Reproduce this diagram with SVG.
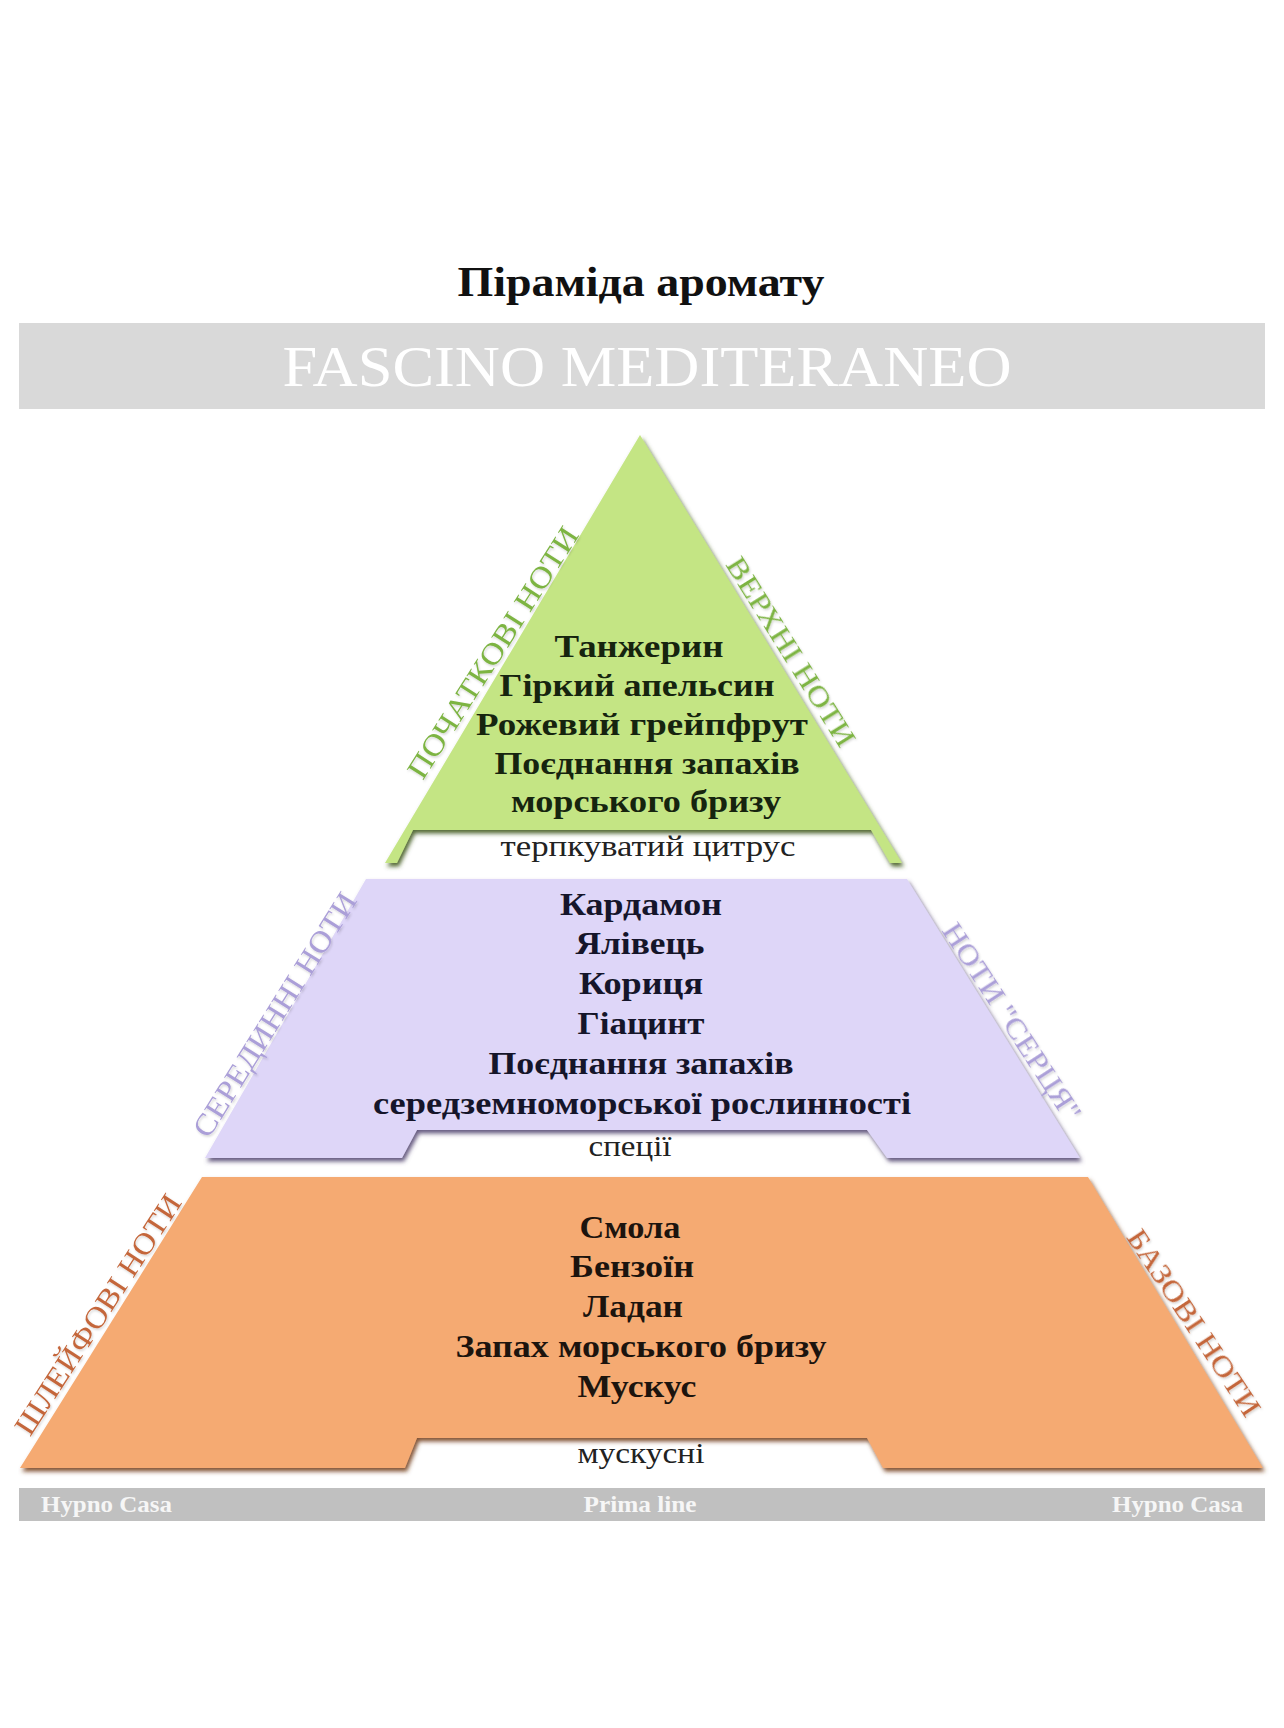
<svg xmlns="http://www.w3.org/2000/svg" width="1284" height="1728" viewBox="0 0 1284 1728">
  <defs>
    <filter id="shGreen" x="-5%" y="-5%" width="110%" height="115%">
      <feDropShadow dx="2" dy="3.5" stdDeviation="2" flood-color="#3f5a1c" flood-opacity="0.9"/>
    </filter>
    <filter id="shPurple" x="-5%" y="-5%" width="110%" height="115%">
      <feDropShadow dx="2" dy="3.5" stdDeviation="2" flood-color="#544a72" flood-opacity="0.9"/>
    </filter>
    <filter id="shOrange" x="-5%" y="-5%" width="110%" height="115%">
      <feDropShadow dx="2" dy="3.5" stdDeviation="2" flood-color="#74401f" flood-opacity="0.9"/>
    </filter>
    <filter id="txtSh" x="-10%" y="-10%" width="120%" height="130%">
      <feDropShadow dx="1" dy="1.5" stdDeviation="1" flood-color="#000000" flood-opacity="0.18"/>
    </filter>
  </defs>
  <style>
    .title { font-family: "Liberation Serif", "DejaVu Serif", serif; font-weight: bold; font-size: 42px; fill: #111111; text-anchor: middle; }
    .brand { font-family: "Liberation Serif", "DejaVu Serif", serif; font-size: 56px; fill: #ffffff; text-anchor: middle; }
    .note { font-family: "Liberation Serif", "DejaVu Serif", serif; font-weight: bold; font-size: 32px; text-anchor: middle; }
    .sub { font-family: "Liberation Serif", "DejaVu Serif", serif; font-size: 29px; fill: #222222; text-anchor: middle; }
    .side { font-family: "Liberation Serif", "DejaVu Serif", serif; font-size: 30px; text-anchor: middle; }
    .foot { font-family: "Liberation Serif", "DejaVu Serif", serif; font-weight: bold; font-size: 24px; fill: #f6f6f6; }
    .gtxt { fill: #16240f; }
    .ptxt { fill: #15152a; }
    .otxt { fill: #1c140e; }
    .gside { fill: #7db443; }
    .pside { fill: #ab9fd8; }
    .oside { fill: #c4663a; }
  </style>
  <rect x="0" y="0" width="1284" height="1728" fill="#ffffff"/>

  <g id="title">
    <text class="title" x="641" y="296" textLength="367" lengthAdjust="spacingAndGlyphs">Піраміда аромату</text>
  </g>

  <g id="banner">
    <rect x="19" y="323" width="1246" height="86" fill="#d9d9d9"/>
    <text class="brand" x="647" y="386" textLength="729" lengthAdjust="spacingAndGlyphs">FASCINO MEDITERANEO</text>
  </g>

  <g id="connectors"/>

  <g id="top-notes">
    <polygon points="640,435 902,863 890,863 871,830 413,830 397,863 385,863" fill="#c4e584" filter="url(#shGreen)"/>
    <text class="note gtxt" x="639" y="657" textLength="169" lengthAdjust="spacingAndGlyphs">Танжерин</text>
    <text class="note gtxt" x="637" y="696" textLength="275" lengthAdjust="spacingAndGlyphs">Гіркий апельсин</text>
    <text class="note gtxt" x="642" y="735" textLength="332" lengthAdjust="spacingAndGlyphs">Рожевий грейпфрут</text>
    <text class="note gtxt" x="647" y="774" textLength="305" lengthAdjust="spacingAndGlyphs">Поєднання запахів</text>
    <text class="note gtxt" x="646" y="812" textLength="270" lengthAdjust="spacingAndGlyphs">морського бризу</text>
    <text class="sub" x="648" y="856" textLength="295" lengthAdjust="spacingAndGlyphs">терпкуватий цитрус</text>
    <g filter="url(#txtSh)">
      <text class="side gside" transform="translate(492,652) rotate(-57.5)" x="0" y="11" textLength="292" lengthAdjust="spacingAndGlyphs">ПОЧАТКОВІ НОТИ</text>
      <text class="side gside" transform="translate(792,651) rotate(58)" x="0" y="11" textLength="218" lengthAdjust="spacingAndGlyphs">ВЕРХНІ НОТИ</text>
    </g>
  </g>

  <g id="heart-notes">
    <polygon points="366,879 907,879 1080,1158 887,1158 867,1130 417,1130 402,1158 205,1158" fill="#ded6f8" filter="url(#shPurple)"/>
    <text class="note ptxt" x="641" y="915" textLength="162" lengthAdjust="spacingAndGlyphs">Кардамон</text>
    <text class="note ptxt" x="640" y="954" textLength="129" lengthAdjust="spacingAndGlyphs">Ялівець</text>
    <text class="note ptxt" x="641" y="994" textLength="124" lengthAdjust="spacingAndGlyphs">Кориця</text>
    <text class="note ptxt" x="641" y="1034" textLength="127" lengthAdjust="spacingAndGlyphs">Гіацинт</text>
    <text class="note ptxt" x="641" y="1074" textLength="305" lengthAdjust="spacingAndGlyphs">Поєднання запахів</text>
    <text class="note ptxt" x="642" y="1114" textLength="538" lengthAdjust="spacingAndGlyphs">середземноморської рослинності</text>
    <text class="sub" x="630" y="1156" textLength="83" lengthAdjust="spacingAndGlyphs">спеції</text>
    <g filter="url(#txtSh)">
      <text class="side pside" transform="translate(274,1014) rotate(-58)" x="0" y="11" textLength="282" lengthAdjust="spacingAndGlyphs">СЕРЕДИННІ НОТИ</text>
      <text class="side pside" transform="translate(1013,1021) rotate(57)" x="0" y="11" textLength="230" lengthAdjust="spacingAndGlyphs">НОТИ "СЕРЦЯ"</text>
    </g>
  </g>

  <g id="base-notes">
    <polygon points="202,1177 1088,1177 1263,1468 883,1468 867,1438 417,1438 405,1468 20,1468" fill="#f5aa72" filter="url(#shOrange)"/>
    <text class="note otxt" x="630" y="1238" textLength="101" lengthAdjust="spacingAndGlyphs">Смола</text>
    <text class="note otxt" x="632" y="1277" textLength="124" lengthAdjust="spacingAndGlyphs">Бензоїн</text>
    <text class="note otxt" x="633" y="1317" textLength="100" lengthAdjust="spacingAndGlyphs">Ладан</text>
    <text class="note otxt" x="641" y="1357" textLength="371" lengthAdjust="spacingAndGlyphs">Запах морського бризу</text>
    <text class="note otxt" x="637" y="1397" textLength="119" lengthAdjust="spacingAndGlyphs">Мускус</text>
    <text class="sub" x="641" y="1463" textLength="127" lengthAdjust="spacingAndGlyphs">мускусні</text>
    <g filter="url(#txtSh)">
      <text class="side oside" transform="translate(97,1314) rotate(-57)" x="0" y="11" textLength="280" lengthAdjust="spacingAndGlyphs">ШЛЕЙФОВІ НОТИ</text>
      <text class="side oside" transform="translate(1195,1322) rotate(56.5)" x="0" y="11" textLength="218" lengthAdjust="spacingAndGlyphs">БАЗОВІ НОТИ</text>
    </g>
  </g>

  <g id="footer">
    <rect x="19" y="1488" width="1246" height="33" fill="#c0c0c0"/>
    <text class="foot" x="41" y="1512" textLength="131" lengthAdjust="spacingAndGlyphs">Hypno Casa</text>
    <text class="foot" x="640" y="1512" text-anchor="middle" textLength="113" lengthAdjust="spacingAndGlyphs">Prima line</text>
    <text class="foot" x="1243" y="1512" text-anchor="end" textLength="131" lengthAdjust="spacingAndGlyphs">Hypno Casa</text>
  </g>
</svg>
